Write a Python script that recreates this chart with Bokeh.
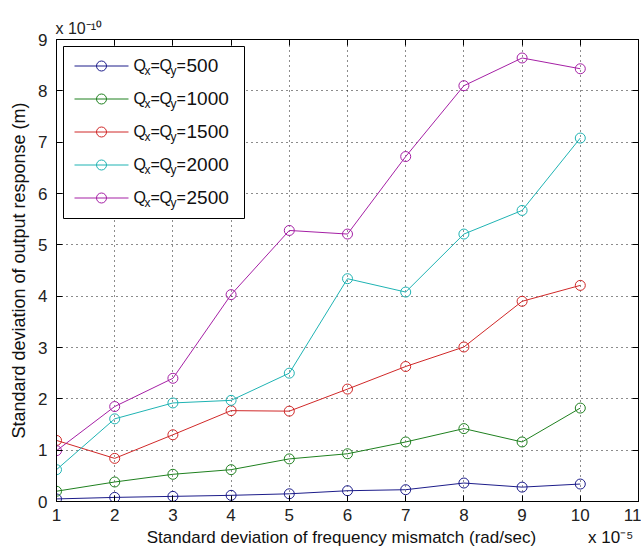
from bokeh.plotting import figure
from bokeh.models import Range1d, LinearAxis, FixedTicker
from bokeh.core.properties import value
from bokeh.embed import file_html
from bokeh.resources import INLINE

# Standard deviation of frequency mismatch (x 1e-5 rad/sec)
mismatch = [1, 2, 3, 4, 5, 6, 7, 8, 9, 10]

# Standard deviation of output response (x 1e-10 m), one series per quality factor
q500 = [0.05, 0.08, 0.10, 0.12, 0.15, 0.21, 0.23, 0.36, 0.28, 0.34]
q1000 = [0.20, 0.38, 0.53, 0.62, 0.83, 0.93, 1.16, 1.42, 1.16, 1.82]
q1500 = [1.19, 0.84, 1.30, 1.77, 1.76, 2.19, 2.63, 3.01, 3.90, 4.21]
q2000 = [0.62, 1.61, 1.92, 1.97, 2.50, 4.34, 4.08, 5.21, 5.67, 7.08]
q2500 = [0.99, 1.85, 2.40, 4.03, 5.28, 5.21, 6.72, 8.10, 8.64, 8.43]

q_values = ["500", "1000", "1500", "2000", "2500"]
series = [q500, q1000, q1500, q2000, q2500]
colors = ["#1c1c8a", "#1f801f", "#d02828", "#1fb3b3", "#a520a5"]

x_ticks = list(range(1, 12))
y_ticks = list(range(0, 10))
X0, X1, Y0, Y1 = 1, 11, 0, 9

W, H = 641, 560
FL, FR, FT, FB = 56, 638, 39, 501   # frame edges in page pixels

FONT = "Liberation Sans"
NB = "\u00a0"

p = figure(width=W, height=H, output_backend="svg", toolbar_location=None,
           x_range=Range1d(X0, X1), y_range=Range1d(Y0, Y1),
           min_border_left=FL, min_border_right=W - FR,
           min_border_top=FT, min_border_bottom=H - FB,
           background_fill_color="white", border_fill_color="white")
p.outline_line_color = "black"
p.outline_line_width = 1

# y multiplier shown as the plot title, at the top-left corner
p.title.text = "x 10\u207b\u00b9\u2070"
p.title.align = "left"
p.title.offset = -1
p.title.standoff = 6
p.title.text_font = FONT
p.title.text_font_size = "16px"
p.title.text_font_style = "normal"
p.title.text_color = "#222222"

p.xaxis.ticker = FixedTicker(ticks=x_ticks)
p.yaxis.ticker = FixedTicker(ticks=y_ticks)
# x label carries the x multiplier at its right end
p.xaxis.axis_label = (NB * 18 + "Standard deviation of frequency mismatch (rad/sec)"
                      + NB * 11 + "x 10\u207b\u2075")
p.yaxis.axis_label = "Standard deviation of output response (m)"

for ax in (p.xaxis[0], p.yaxis[0]):
    ax.major_tick_in = 6
    ax.major_tick_out = 0
    ax.minor_tick_in = 0
    ax.minor_tick_out = 0
    ax.axis_line_color = "black"
    ax.major_tick_line_color = "black"
    ax.major_label_text_font = FONT
    ax.major_label_text_font_size = "17px"
    ax.major_label_text_color = "#222222"
    ax.axis_label_text_font = FONT
    ax.axis_label_text_font_style = "normal"
    ax.axis_label_text_color = "#111111"

p.xaxis.major_label_standoff = 7
p.xaxis.axis_label_standoff = 4
p.xaxis.axis_label_text_font_size = "17px"
p.yaxis.major_label_standoff = 9
p.yaxis.axis_label_standoff = 6
p.yaxis.axis_label_text_font_size = "18px"

# mirrored tick marks on the top and right edges of the box
for side, ticks in (("above", x_ticks), ("right", y_ticks)):
    ax = LinearAxis(ticker=FixedTicker(ticks=ticks),
                    major_label_overrides={t: "" for t in ticks},
                    major_label_text_font_size="0px", major_label_standoff=0,
                    major_tick_in=6, major_tick_out=0,
                    minor_tick_in=0, minor_tick_out=0,
                    axis_line_color="black", major_tick_line_color="black")
    p.add_layout(ax, side)

for g in (p.xgrid[0], p.ygrid[0]):
    g.grid_line_color = "black"
    g.grid_line_dash = "1 4"
    g.grid_line_width = 1
    g.grid_line_alpha = 0.9

for ys, c in zip(series, colors):
    p.line(mismatch, ys, line_color=c, line_width=1)
    p.scatter(mismatch, ys, marker="circle", size=10,
              fill_color=None, line_color=c, line_width=1)


# key box in the upper-left corner, drawn in data space from page pixels
def dx(px):
    return X0 + (px - FL) * (X1 - X0) / (FR - FL)


def dy(py):
    return Y0 + (FB - py) * (Y1 - Y0) / (FB - FT)


p.quad(left=[dx(63)], right=[dx(244)], top=[dy(46)], bottom=[dy(218)],
       fill_color="white", line_color="black", line_width=1)

row0, pitch = 65.5, 33
rows = [row0 + i * pitch for i in range(len(q_values))]
p.segment(x0=[dx(74)] * 5, x1=[dx(128)] * 5, y0=[dy(r) for r in rows],
          y1=[dy(r) for r in rows], line_color=colors, line_width=1)
p.scatter(x=[dx(101)] * 5, y=[dy(r) for r in rows], marker="circle", size=10,
          fill_color=None, line_color=colors, line_width=1)


def key_text(texts, px, offset, size):
    p.text(x=[dx(px)] * len(texts), y=[dy(r + offset) for r in rows], text=texts,
           text_font=value(FONT), text_font_size=value(f"{size}px"),
           text_baseline="middle", text_align="left", text_color="#111111")


# Q_x = Q_y = value, with lowered subscripts
key_text(["Q"] * 5, 133, -1, 16)
key_text(["x"] * 5, 144, 5, 12)
key_text(["="] * 5, 150, -1, 16)
key_text(["Q"] * 5, 159, -1, 16)
key_text(["y"] * 5, 170, 5, 12)
key_text(["="] * 5, 176, -1, 16)
key_text(q_values, 186, -1, 19)

open("out.html", "w").write(file_html(p, INLINE))
